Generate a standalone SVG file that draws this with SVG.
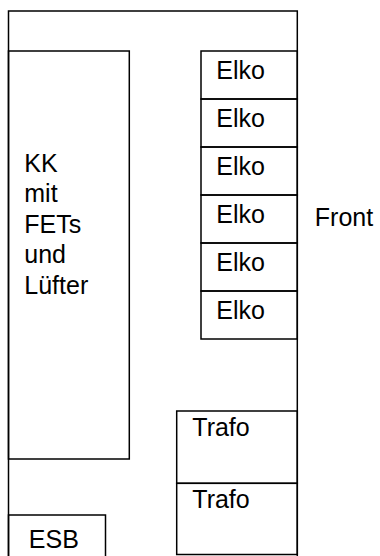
<svg xmlns="http://www.w3.org/2000/svg" width="380" height="556" viewBox="0 0 380 556">
<style>
.box{fill:none;stroke:#000;stroke-width:1.5}
.t{font-family:"Liberation Sans",Arial,sans-serif;font-size:25px;fill:#000}
</style>
<rect width="380" height="556" fill="#fff"/>
<g id="gehaeuse"><rect class="box" x="8.5" y="11" width="288.8" height="570"/></g>
<g id="kk">
<rect class="box" x="8.5" y="51" width="120.8" height="408"/>
<text class="t" x="24.3" y="171.7">KK</text>
<text class="t" x="24.3" y="202.2">mit</text>
<text class="t" x="24.3" y="232.7">FETs</text>
<text class="t" x="24.3" y="263.2">und</text>
<text class="t" x="24.3" y="293.7">Lüfter</text>
</g>
<g id="elko1"><rect class="box" x="201" y="51" width="96.3" height="48"/><text class="t" x="216.3" y="79">Elko</text></g>
<g id="elko2"><rect class="box" x="201" y="99" width="96.3" height="48"/><text class="t" x="216.3" y="127">Elko</text></g>
<g id="elko3"><rect class="box" x="201" y="147" width="96.3" height="48"/><text class="t" x="216.3" y="175">Elko</text></g>
<g id="elko4"><rect class="box" x="201" y="195" width="96.3" height="48"/><text class="t" x="216.3" y="223">Elko</text></g>
<g id="elko5"><rect class="box" x="201" y="243" width="96.3" height="48"/><text class="t" x="216.3" y="271">Elko</text></g>
<g id="elko6"><rect class="box" x="201" y="291" width="96.3" height="48"/><text class="t" x="216.3" y="319">Elko</text></g>
<g id="front"><text class="t" x="314.8" y="225.7">Front</text></g>
<g id="trafo1"><rect class="box" x="176.7" y="411" width="120.6" height="72.3"/><text class="t" x="192.3" y="436">Trafo</text></g>
<g id="trafo2"><rect class="box" x="176.7" y="483.3" width="120.6" height="71.2"/><text class="t" x="192.3" y="508.3">Trafo</text></g>
<g id="esb"><rect class="box" x="8.5" y="515" width="97" height="60"/><text class="t" x="28.8" y="548.3">ESB</text></g>
<g id="connectors"></g>
</svg>
